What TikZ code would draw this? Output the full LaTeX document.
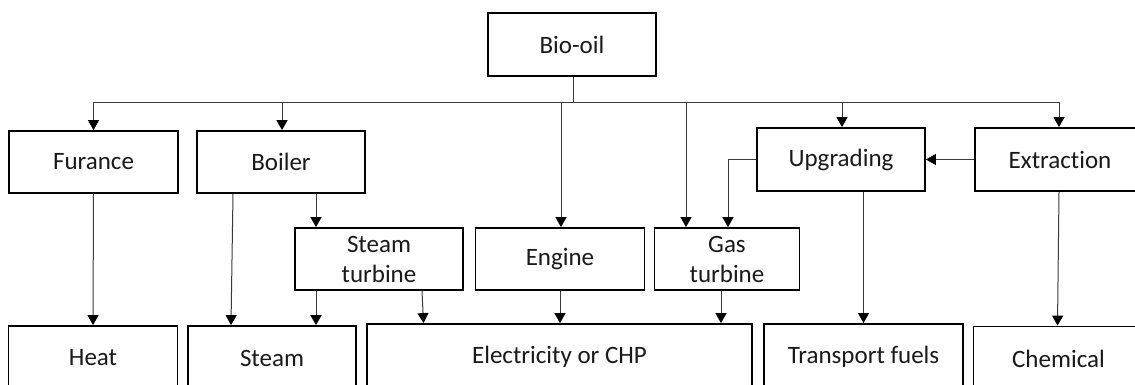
\documentclass[tikz,border=0pt]{standalone}
\usepackage{fontspec}
\setmainfont{Carlito}[Ligatures={NoCommon}]
\usetikzlibrary{arrows.meta}
\definecolor{conn}{HTML}{3A3A3A}
\tikzset{
  box/.style={draw=black, line width=1.8pt, inner sep=0pt, align=center,
    text=black!90, font=\fontsize{25}{30}\selectfont},
  arr/.style={draw=conn, line width=1pt, -{Triangle[length=10pt,width=11pt,black]}},
  ln/.style={draw=conn, line width=1pt}
}
\begin{document}
\begin{tikzpicture}[x=1pt,y=-1pt]
\path[use as bounding box] (0,0) rectangle (1135,385);
\clip (0,0) rectangle (1135,385);
% top
\node[box, minimum width=168pt, minimum height=63pt] (bio) at (572,44.5) {Bio-oil};
% second row
\node[box, minimum width=169pt, minimum height=62pt] (fur) at (93.5,162) {Furance};
\node[box, minimum width=168pt, minimum height=62pt] (boil) at (281,162) {Boiler};
\node[box, minimum width=168pt, minimum height=63pt] (upg) at (841,159.5) {Upgrading};
\node[box, minimum width=170pt, minimum height=63pt] (ext) at (1060,159.5) {Extraction};
% third row
\node[box, minimum width=168pt, minimum height=62pt] (st) at (379,259) {Steam\\turbine};
\node[box, minimum width=169pt, minimum height=62pt] (eng) at (560,259) {Engine};
\node[box, minimum width=145pt, minimum height=62pt] (gas) at (727,259) {Gas\\turbine};
% bottom row
\node[box, minimum width=169pt, minimum height=64pt] (heat) at (93,358) {Heat};
\node[box, minimum width=168pt, minimum height=64pt] (steam) at (272,358) {Steam};
\node[box, minimum width=385pt, minimum height=65pt] (elec) at (559.5,356.5) {Electricity or CHP};
\node[box, minimum width=199pt, minimum height=65pt] (trans) at (863.5,356.5) {Transport fuels};
\node[box, minimum width=170pt, minimum height=64pt] (chem) at (1058.5,358.5) {Chemical};
% bus from bio-oil
\coordinate (bus) at (573,103);
\draw[ln] ([xshift=1pt]bio.south) -- (bus);
\draw[arr] (bus) -| (fur.north);
\draw[arr] (bus) -| ([xshift=1pt]boil.north);
\draw[arr] (bus) -| ([xshift=1pt]eng.north);
\draw[arr] (bus) -| ([xshift=-41pt]gas.north);
\draw[arr] (bus) -| ([xshift=1pt]upg.north);
\draw[arr] (bus) -| ([xshift=-1pt]ext.north);
% side links
\draw[arr] (ext.west) -- (upg.east);
\draw[arr] (upg.west) -| ([xshift=1pt]gas.north);
% downward links
\draw[arr] (fur.south) -- (heat.north);
\draw[arr] ([xshift=-48pt]boil.south) -- ([xshift=-41pt]steam.north);
\draw[arr] ([xshift=35pt]boil.south) -- ([xshift=35pt]boil.south |- st.north);
\draw[arr] ([xshift=-63pt]st.south) -- ([xshift=-63pt]st.south |- steam.north);
\draw[arr] ([xshift=43pt]st.south) -- ([xshift=-136pt]elec.north);
\draw[arr] (eng.south) -- (eng.south |- elec.north);
\draw[arr] ([xshift=-6pt]gas.south) -- ([xshift=-6pt]gas.south |- elec.north);
\draw[arr] (trans.north |- upg.south) -- (trans.north);
\draw[arr] ([xshift=-1pt]ext.south) -- ([xshift=-1pt]chem.north);
\end{tikzpicture}
\end{document}
